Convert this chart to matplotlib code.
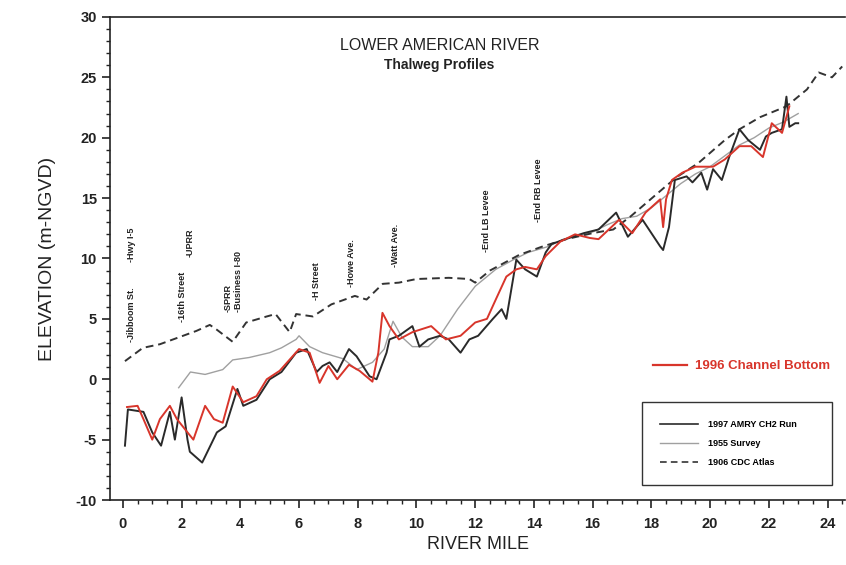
import matplotlib
matplotlib.use("Agg")
import matplotlib.pyplot as plt
from matplotlib.lines import Line2D
from matplotlib.ticker import MultipleLocator

plt.rcParams['font.family'] = ['Liberation Sans', 'DejaVu Sans']
plt.rcParams['axes.unicode_minus'] = False

# 1996 channel bottom (river mile, elevation m-NGVD)
red_mile = [0.14, 0.5, 0.7, 1.0, 1.26, 1.6, 1.84, 2.2, 2.4, 2.8, 3.1, 3.4, 3.74, 4.1,
            4.55, 4.9, 5.34, 6.0, 6.36, 6.7, 7.0, 7.3, 7.7, 8.06, 8.5, 8.7, 8.84, 9.08,
            9.4, 9.86, 10.5, 11.0, 11.5, 12.0, 12.4, 12.7, 13.06, 13.4, 13.7, 14.1, 14.4,
            14.9, 15.4, 15.9, 16.2, 16.9, 17.35, 17.8, 18.3, 18.4, 18.5, 18.7, 19.05,
            19.5, 20.1, 20.5, 21.0, 21.4, 21.8, 22.1, 22.45, 22.7]
red_elev = [-2.3, -2.2, -3.3, -5.0, -3.3, -2.2, -3.3, -4.4, -5.0, -2.2, -3.3, -3.6, -0.6,
            -1.9, -1.4, 0.0, 0.7, 2.5, 2.2, -0.3, 1.1, 0.0, 1.2, 0.7, -0.2, 2.2, 5.5, 4.4,
            3.3, 3.9, 4.4, 3.3, 3.6, 4.7, 5.0, 6.6, 8.5, 9.1, 9.3, 9.1, 10.2, 11.4, 12.0,
            11.7, 11.6, 13.2, 12.1, 13.8, 14.9, 12.6, 14.9, 16.5, 17.1, 17.6, 17.6, 18.2,
            19.3, 19.3, 18.4, 21.2, 20.4, 22.6]

# Model run profile
blk_mile = [0.07, 0.17, 0.7, 1.0, 1.3, 1.6, 1.77, 2.0, 2.2, 2.28, 2.7, 3.2, 3.5, 3.9, 4.1,
            4.55, 5.0, 5.4, 5.9, 6.26, 6.6, 6.8, 7.04, 7.3, 7.7, 7.96, 8.4, 8.64, 8.98,
            9.08, 9.4, 9.86, 10.1, 10.4, 10.8, 11.1, 11.5, 11.8, 12.1, 12.6, 12.9, 13.06,
            13.4, 13.7, 14.1, 14.4, 14.6, 15.2, 15.7, 16.2, 16.8, 17.2, 17.7, 18.3, 18.4,
            18.6, 18.8, 19.2, 19.4, 19.7, 19.9, 20.1, 20.4, 20.65, 21.0, 21.3, 21.7, 21.9,
            22.1, 22.45, 22.6, 22.7, 22.9, 23.0]
blk_elev = [-5.5, -2.5, -2.7, -4.4, -5.5, -2.7, -5.0, -1.5, -5.0, -6.0, -6.9, -4.4, -3.9,
            -0.8, -2.2, -1.7, 0.0, 0.6, 2.2, 2.5, 0.6, 1.1, 1.4, 0.6, 2.5, 1.9, 0.25, 0.0,
            2.2, 3.3, 3.6, 4.4, 2.7, 3.3, 3.6, 3.3, 2.2, 3.3, 3.6, 5.0, 5.8, 5.0, 9.9, 9.1,
            8.5, 10.5, 11.2, 11.7, 12.1, 12.4, 13.8, 11.8, 13.2, 11.0, 10.7, 12.6, 16.5,
            16.8, 16.3, 17.1, 15.7, 17.4, 16.5, 18.4, 20.7, 19.8, 19.0, 20.1, 20.4, 20.7,
            23.4, 20.9, 21.2, 21.2]

# Survey profile
gry_mile = [1.9, 2.3, 2.8, 3.4, 3.74, 4.3, 5.0, 5.4, 5.9, 6.0, 6.36, 6.8, 7.5, 7.96, 8.5,
            8.9, 9.2, 9.5, 9.86, 10.4, 10.8, 11.4, 12.0, 12.7, 13.3, 13.8, 14.5, 15.0,
            15.5, 16.0, 16.5, 17.0, 17.5, 18.0, 18.5, 19.0, 19.5, 20.0, 20.5, 21.0, 21.5,
            22.0, 22.5, 23.0]
gry_elev = [-0.7, 0.6, 0.4, 0.8, 1.6, 1.8, 2.2, 2.6, 3.3, 3.6, 2.7, 2.2, 1.7, 0.8, 1.4,
            2.5, 4.8, 3.5, 2.7, 2.7, 3.6, 5.8, 7.7, 9.1, 9.9, 10.5, 11.0, 11.6, 11.9, 12.2,
            12.8, 13.3, 13.5, 14.2, 15.2, 16.2, 17.0, 17.6, 18.5, 19.4, 20.0, 20.8, 21.3,
            22.0]

# CDC atlas profile
cdc_mile = [0.07, 0.68, 1.26, 2.5, 2.96, 3.2, 3.74, 4.2, 4.9, 5.2, 5.68, 5.9, 6.47, 7.1,
            7.9, 8.3, 8.85, 9.4, 10.0, 11.1, 11.8, 12.0, 12.5, 13.5, 14.3, 15.1, 16.0,
            16.7, 17.3, 18.5, 18.9, 19.6, 20.5, 21.0, 21.7, 22.6, 23.3, 23.7, 24.15, 24.5]
cdc_elev = [1.5, 2.6, 2.9, 4.0, 4.5, 4.1, 3.1, 4.7, 5.2, 5.4, 3.9, 5.4, 5.2, 6.2, 6.9,
            6.6, 7.9, 8.0, 8.3, 8.4, 8.3, 8.0, 9.0, 10.3, 11.0, 11.6, 12.1, 12.4, 13.5,
            16.0, 16.8, 17.9, 19.8, 20.7, 21.7, 22.6, 24.0, 25.4, 25.0, 25.9]

# Landmark labels: (river mile, elevation at the start of the label, text)
lm_mile = [0.3, 0.3, 2.04, 2.28, 3.6, 3.95, 6.6, 7.8, 9.3, 12.4, 14.15]
lm_elev = [3.1, 9.7, 4.7, 10.1, 5.6, 5.6, 6.6, 7.6, 9.3, 10.5, 13.0]
lm_text = ['-Jibboom St.', '-Hwy I-5', '-16th Street', '-UPRR', '-SPRR',
           '-Business I-80', '-H Street', '-Howe Ave.', '-Watt Ave.',
           '-End LB Levee', '-End RB Levee']

labels = ['1996 Channel Bottom', '1997 AMRY CH2 Run', '1955 Survey', '1906 CDC Atlas']
red_c = '#d8352b'

fig = plt.figure(figsize=(8.46, 5.65), dpi=100)
ax = fig.add_axes([0.130, 0.115, 0.869, 0.855])

ax.plot(gry_mile, gry_elev, color='#a0a0a0', lw=1.0, zorder=2)
ax.plot(cdc_mile, cdc_elev, color='#333333', lw=1.4, ls=(0, (4, 2.5)), zorder=2)
ax.plot(blk_mile, blk_elev, color='#2a2a2a', lw=1.4, zorder=3)
ax.plot(red_mile, red_elev, color=red_c, lw=1.4, zorder=4)

for m, e, t in zip(lm_mile, lm_elev, lm_text):
    ax.text(m, e, t, rotation=90, ha='center', va='bottom', fontsize=6.5,
            fontweight='bold', color='#222222')

ax.set_xlim(-0.44, 24.6)
ax.set_ylim(-10, 30)
ax.xaxis.set_major_locator(MultipleLocator(2))
ax.xaxis.set_minor_locator(MultipleLocator(0.5))
ax.yaxis.set_major_locator(MultipleLocator(5))
ax.yaxis.set_minor_locator(MultipleLocator(1))
ax.tick_params(which='major', direction='out', length=6, width=1.2, labelsize=10.5,
               colors='#222222')
ax.tick_params(axis='x', which='major', pad=6)
ax.tick_params(which='minor', direction='out', length=3, width=1.0, colors='#222222')
for lab in ax.get_xticklabels() + ax.get_yticklabels():
    lab.set_fontweight('bold')
ax.spines['right'].set_visible(False)
for s in ['left', 'bottom', 'top']:
    ax.spines[s].set_linewidth(1.2)
    ax.spines[s].set_color('#222222')

ax.set_xlabel('RIVER MILE', fontsize=13, labelpad=4, color='#222222')
ax.set_ylabel('ELEVATION (m-NGVD)', fontsize=14, labelpad=14, color='#222222')

ax.text(0.448, 0.941, 'LOWER AMERICAN RIVER', transform=ax.transAxes, ha='center',
        va='center', fontsize=11.5, color='#222222')
ax.text(0.448, 0.900, 'Thalweg Profiles', transform=ax.transAxes, ha='center',
        va='center', fontsize=10, fontweight='bold', color='#222222')

# Red entry stands apart from the boxed legend
h_red = [Line2D([], [], color=red_c, lw=1.6)]
leg1 = ax.legend(h_red, labels[:1], loc='center left', bbox_to_anchor=(0.722, 0.277),
                 frameon=False, handlelength=2.6, handletextpad=0.6,
                 prop={'size': 9.5, 'weight': 'bold'}, labelcolor=red_c)
ax.add_artist(leg1)

h_box = [Line2D([], [], color='#2a2a2a', lw=1.2),
         Line2D([], [], color='#a0a0a0', lw=1.0),
         Line2D([], [], color='#333333', lw=1.2, ls=(0, (4, 2.5)))]
leg2 = ax.legend(h_box, labels[1:], loc='lower left',
                 bbox_to_anchor=(0.724, 0.031, 0.258, 0.188), mode='expand',
                 fancybox=False, edgecolor='#333333', framealpha=1,
                 handlelength=4.2, handletextpad=1.1, labelspacing=1.1, borderpad=2.0,
                 borderaxespad=0, prop={'size': 6.5, 'weight': 'bold'})
leg2.get_frame().set_linewidth(1.0)

fig.savefig('out.png', dpi=100)
